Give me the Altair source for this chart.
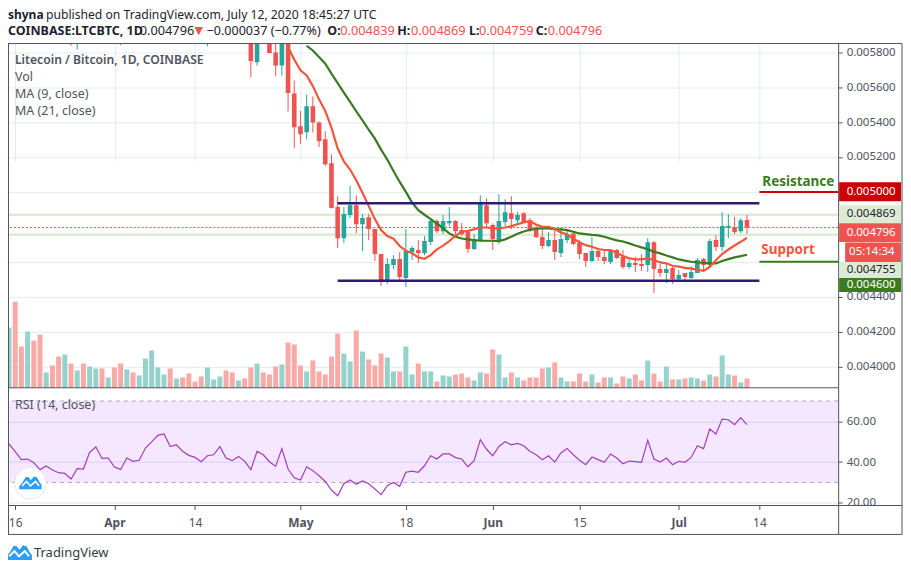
import altair as alt
import pandas as pd

# ---------- values ----------
volume = [181,259,124,169,142,160,46,67,94,100,73,52,73,64,58,58,31,61,73,55,46,37,88,112,61,40,58,28,31,43,19,34,61,25,34,52,46,22,28,61,
          73,46,40,64,70,136,130,67,49,82,49,40,94,163,103,79,172,109,85,67,103,91,49,49,124,40,73,49,49,19,37,34,40,43,31,22,46,43,115,100,
          31,46,31,22,31,31,58,61,76,31,19,19,43,19,40,16,31,31,13,34,28,40,22,82,43,19,64,25,25,28,31,28,22,40,34,97,40,37,16,28]
vol_up = [0,3,6,9,11,13,14,16,19,21,22,23,24,25,27,32,33,34,37,40,44,48,54,55,57,61,62,64,65,67,68,70,71,75,76,79,80,82,87,89,90,94,97,100,103,106,108,110,111,113,115,116,118]

rsi = [48.9,45.1,41.2,41.5,39.7,36.3,38.1,36.1,34.8,34.5,31.7,36.8,36.6,44.8,47.4,41.8,42.0,37.6,36.4,42.0,40.4,40.9,46.9,49.9,53.1,53.8,47.6,48.5,45.3,43.3,
       42.3,40.2,43.1,43.6,47.6,42.0,40.7,42.7,40.5,36.3,45.3,43.6,40.2,37.9,46.6,36.6,32.3,31.2,37.7,35.8,33.3,30.5,26.3,23.5,29.4,31.2,29.1,30.7,29.4,26.8,
       24.0,28.4,30.0,28.1,35.0,35.6,35.0,38.2,43.1,41.5,44.0,44.0,42.2,41.5,37.7,40.7,51.0,46.3,43.1,47.7,50.0,48.5,49.2,48.0,45.3,43.6,41.2,43.1,40.0,44.5,
       46.7,43.6,40.9,38.7,42.5,41.2,39.9,44.0,42.0,39.2,40.5,40.2,39.9,50.7,41.5,40.0,42.0,38.7,40.4,39.9,42.3,48.0,46.6,56.2,53.8,61.1,60.8,58.4,61.8,58.4]

# candles, as day numbers counted from 15 March, prices in millionths of BTC
candle_day = [10,11,18,32,39,40,42,43,44,45,46,47,48,49,50,51,52,53,54,55,56,57,58,59,60,61,62,63,64,65,66,67,68,69,70,71,72,73,74,75,76,77,78,79,
              80,81,82,83,84,85,86,87,88,89,90,91,92,93,94,95,96,97,98,99,100,101,102,103,104,105,106,107,108,109,110,111,112,113,114,115,116,117,118,119]
opens = [5900,5860,5900,5860,5900,5743,5900,5798,5724,5860,5564,5376,5341,5490,5398,5301,5164,4913,4735,4867,4924,4815,4855,4787,4644,4495,4581,4615,4507,4655,4667,4650,4713,4833,4775,4821,4833,4781,4770,4673,
         4718,4924,4810,4718,4827,4878,4838,4878,4838,4793,4741,4690,4724,4650,4724,4762,4707,4650,4604,4661,4627,4598,4667,4627,4570,4592,4587,4581,4712,4558,4535,4564,4501,4535,4507,4535,4615,4581,4724,4684,4794,4798,4775,4839]
highs = [5920,5900,5920,5900,5950,5900,5950,5880,5900,5900,5638,5463,5558,5547,5404,5347,5215,4975,4913,5033,4981,4873,4873,4787,4644,4621,4638,4655,4787,4690,4724,4747,4850,4844,4867,4913,4838,4821,4775,4758,
         4981,4964,4819,4987,4958,4975,4884,4884,4850,4810,4793,4770,4787,4793,4781,4770,4724,4650,4741,4673,4673,4673,4673,4667,4610,4627,4644,4735,4718,4587,4592,4570,4552,4535,4575,4621,4621,4730,4752,4884,4872,4855,4850,4869]
lows = [5838,5815,5841,5834,5657,5724,5794,5663,5667,5461,5252,5276,5301,5341,5257,5147,4905,4678,4707,4850,4764,4661,4724,4604,4461,4473,4558,4495,4455,4610,4593,4638,4695,4764,4758,4804,4752,4747,4650,4667,
        4712,4798,4667,4701,4804,4787,4819,4827,4775,4735,4673,4684,4610,4627,4707,4695,4615,4570,4598,4604,4587,4587,4615,4558,4558,4541,4547,4541,4421,4512,4478,4473,4484,4495,4501,4535,4541,4575,4661,4661,4735,4758,4764,4759]
closes = [5880,5880,5880,5880,5749,5880,5795,5724,5860,5566,5370,5330,5490,5398,5290,5158,4907,4735,4873,4924,4815,4850,4787,4644,4495,4587,4615,4513,4661,4678,4650,4718,4833,4775,4833,4833,4775,4758,4673,4728,
          4933,4821,4730,4833,4884,4844,4867,4827,4775,4741,4690,4724,4655,4730,4758,4701,4644,4604,4661,4627,4604,4661,4621,4570,4592,4581,4575,4712,4558,4535,4558,4501,4524,4512,4541,4610,4581,4718,4684,4804,4804,4770,4838,4796]

ma9_start = 45
ma9 = [5829,5758,5696,5667,5606,5530,5463,5368,5248,5175,5128,5067,4995,4920,4844,4781,4747,4732,4690,4663,4648,4625,4617,4638,4671,4692,4718,4749,4772,4777,
       4785,4796,4796,4791,4791,4796,4804,4815,4825,4833,4813,4800,4800,4787,4768,4756,4733,4711,4695,4686,4673,4667,4667,4652,4632,4619,4613,4613,4619,4610,
       4596,4591,4577,4572,4565,4560,4555,4548,4571,4609,4644,4670,4693,4714,4737]
ma21_start = 48
ma21 = [5837,5810,5772,5734,5677,5623,5568,5515,5461,5410,5356,5305,5242,5185,5120,5057,5000,4939,4895,4869,4844,4819,4791,4762,4743,4733,4728,4724,4720,4720,
        4720,4718,4728,4743,4760,4773,4783,4789,4791,4791,4787,4785,4781,4772,4762,4758,4754,4751,4743,4732,4722,4716,4705,4693,4682,4671,4657,4648,4636,4625,
        4613,4606,4600,4596,4594,4590,4590,4604,4615,4625,4632,4640]

price_ticks = [0.0058,0.0056,0.0054,0.0052,0.0050,0.0048,0.0046,0.0044,0.0042,0.0040]
rsi_ticks = [20,40,60]
time_ticks = ["2020-03-16","2020-04-01","2020-04-14","2020-05-01","2020-05-18","2020-06-01","2020-06-15","2020-07-01","2020-07-14"]
channel_prices = [0.004935,0.004491]
channel_span = ["2020-05-07","2020-07-14"]
last_high, last_close, last_low = 0.004869, 0.004796, 0.004755
resistance_level, support_level = 0.005000, 0.004600

# ---------- colours ----------
UP, DOWN = "#26a69a", "#ef5350"
VUP, VDOWN = "#93d3cb", "#f9a9a6"
GRID, FRAME, INK = "#e1ecf2", "#50535e", "#1e222d"
GREEN, ORANGE, NAVY = "#3c7a1e", "#f2573a", "#2d1a72"
FONT = "Noto Sans"

# ---------- layout: plot area is the chart pane, page x-8 / y-43 ----------
W, H = 832, 463
PANE_BOTTOM = 345
OX, OY = 8, 43

def ts(s):
    return int(pd.Timestamp(s, tz="UTC").value / 1e6)

def day(i):
    return (pd.Timestamp("2020-03-15") + pd.Timedelta(days=i)).strftime("%Y-%m-%dT00:00:00Z")

x_scale = alt.Scale(type="utc", domain=[ts("2020-03-14T20:08:00"), ts("2020-07-26T16:50:00")])
price_scale = alt.Scale(domain=[0.003878, 0.00584971], range=[PANE_BOTTOM, 0])
rsi_scale = alt.Scale(domain=[18.68, 76.5], range=[H, PANE_BOTTOM])
vol_scale = alt.Scale(domain=[0, 1035], range=[PANE_BOTTOM, 0])

time_axis = alt.Axis(values=[ts(t) for t in time_ticks], grid=True, gridColor=GRID, domain=False,
                     tickColor=FRAME, tickSize=4, labelColor=FRAME, labelFont=FONT, labelFontSize=12,
                     labelPadding=8, labelOverlap=False, labelFlush=False, title=None,
                     labelExpr="utcdate(datum.value) == 1 ? utcFormat(datum.value, '%b') : utcFormat(datum.value, '%-d')",
                     labelFontWeight={"condition": {"test": "utcdate(datum.value) == 1", "value": "bold"}, "value": "normal"})
X = alt.X("date:T", scale=x_scale, axis=time_axis, title=None)
X2 = alt.X2("date2:T")
is_up = "datum.dir == 'up'"

days = list(range(120))
vol_df = pd.DataFrame({"date": [day(i) for i in days], "vol": volume, "rsi": rsi,
                       "dir": ["up" if i in vol_up else "down" for i in days]})
candles = pd.DataFrame({"date": [day(i) for i in candle_day], "open": [v/1e6 for v in opens], "high": [v/1e6 for v in highs],
                        "low": [v/1e6 for v in lows], "close": [v/1e6 for v in closes]})
candles["dir"] = ["up" if c >= o else "down" for o, c in zip(opens, closes)]
ma9_df = pd.DataFrame({"date": [day(ma9_start + i) for i in range(len(ma9))], "p": [v/1e6 for v in ma9]})
ma21_df = pd.DataFrame({"date": [day(ma21_start + i) for i in range(len(ma21))], "p": [v/1e6 for v in ma21]})

def txt(s, x, y, size=12.5, color=INK, weight="normal", align="left", font=FONT):
    return alt.Chart().mark_text(text=s, align=align, baseline="middle", fontSize=size, color=color,
                                 fontWeight=weight, font=font).encode(x=alt.value(x - OX), y=alt.value(y - OY))

def seg(x1, x2, y):
    return alt.Chart().mark_rule(color=FRAME, strokeWidth=1).encode(
        x=alt.value(x1 - OX), x2=alt.value(x2 - OX), y=alt.value(y - OY))

def vseg(x, y1, y2):
    return alt.Chart().mark_rule(color=FRAME, strokeWidth=1).encode(
        x=alt.value(x - OX), y=alt.value(y1 - OY), y2=alt.value(y2 - OY))

def tag(s, x1, x2, y1, y2, bg, fg, tx=848.5):
    box = alt.Chart().mark_rect(color=bg).encode(x=alt.value(x1 - OX), x2=alt.value(x2 - OX),
                                                 y=alt.value(y1 - OY), y2=alt.value(y2 - OY))
    return [box, txt(s, tx, (y1 + y2) / 2, size=11.5, color=fg)]

# the labels of 0.004800 and 0.004600 sit under the value tags, as in the reference
price_axis = alt.Axis(values=price_ticks, format=".6f", orient="right", grid=True, gridColor=GRID, domain=False,
                      tickColor=FRAME, tickSize=4, labelColor=FRAME, labelFont=FONT, labelFontSize=11.5,
                      labelPadding=4, labelOverlap=False, labelFlush=False, title=None,
                      labelExpr="(abs(datum.value - 0.0048) < 1e-7 || abs(datum.value - 0.0046) < 1e-7) ? '' : datum.label")
rsi_axis = alt.Axis(values=rsi_ticks, format=".2f", orient="right", grid=True, gridColor="#e0e3f0", domain=False,
                    tickColor=FRAME, tickSize=4, labelColor=FRAME, labelFont=FONT, labelFontSize=11.5,
                    labelPadding=4, labelOverlap=False, labelFlush=False, title=None)

# RSI pane
rsi_zone = alt.Chart(pd.DataFrame({"a": [70], "b": [30]})).mark_rect(color="#9915ff", opacity=0.1).encode(
    x=alt.value(0), x2=alt.value(W),
    y=alt.Y("a:Q", scale=rsi_scale, axis=rsi_axis, title=None), y2="b:Q")
rsi_bounds = alt.Chart(pd.DataFrame({"v": [70, 30]})).mark_rule(color="#b3aab8", strokeDash=[4, 4], strokeWidth=1).encode(
    y=alt.Y("v:Q", scale=rsi_scale, axis=None))
rsi_line = alt.Chart(vol_df).mark_line(color="#a33dbd", strokeWidth=1.2).encode(
    x=X, y=alt.Y("rsi:Q", scale=rsi_scale, axis=None))

# volume
vol_bars = alt.Chart(vol_df).transform_calculate(zero="0").mark_rule(strokeWidth=5).encode(
    x=X, y=alt.Y("vol:Q", scale=vol_scale, axis=None), y2="zero:Q",
    color=alt.condition(is_up, alt.value(VUP), alt.value(VDOWN)))

# last-value lines and grid of the price scale
levels = alt.Chart(pd.DataFrame({"v": [last_high, last_low]})).mark_rule(color="#dcebd4", strokeWidth=2.5).encode(
    y=alt.Y("v:Q", scale=price_scale, axis=price_axis, title=None))
close_line = alt.Chart(pd.DataFrame({"v": [last_close]})).mark_rule(color=DOWN, strokeWidth=1, strokeDash=[2, 2]).encode(
    y=alt.Y("v:Q", scale=price_scale, axis=None))

# candles
PY = lambda f: alt.Y(f, scale=price_scale, axis=None, title=None)
cbase = alt.Chart(candles)
color = alt.condition(is_up, alt.value(UP), alt.value(DOWN))
wicks = cbase.mark_rule(strokeWidth=1, clip=True).encode(x=X, y=PY("high:Q"), y2="low:Q", color=color)
bodies = cbase.mark_rule(strokeWidth=4.6, clip=True).encode(x=X, y=PY("open:Q"), y2="close:Q", color=color)

# moving averages
ma21_line = alt.Chart(ma21_df).mark_line(color=GREEN, strokeWidth=2.2, clip=True).encode(x=X, y=PY("p:Q"))
ma9_line = alt.Chart(ma9_df).mark_line(color=ORANGE, strokeWidth=2.2, clip=True).encode(x=X, y=PY("p:Q"))

# drawn lines
channel = alt.Chart(pd.DataFrame({"date": [channel_span[0] + "T00:00:00Z"] * 2, "date2": [channel_span[1] + "T00:00:00Z"] * 2,
                                  "v": channel_prices})).mark_rule(color=NAVY, strokeWidth=2.5).encode(x=X, x2=X2, y=PY("v:Q"))
resist = alt.Chart(pd.DataFrame({"date": ["2020-07-14T00:00:00Z"], "date2": ["2020-07-26T16:50:00Z"], "v": [resistance_level]})).mark_rule(
    color="#cc0000", strokeWidth=2).encode(x=X, x2=X2, y=PY("v:Q"))
support = alt.Chart(pd.DataFrame({"date": ["2020-07-14T00:00:00Z"], "date2": ["2020-07-26T16:50:00Z"], "v": [support_level]})).mark_rule(
    color=GREEN, strokeWidth=2).encode(x=X, x2=X2, y=PY("v:Q"))

# logo shapes
CLOUD = "M-1,0.6 L-1,0.3 L-0.72,0 L-0.42,-0.5 L-0.2,-0.5 L0.05,-0.2 L0.3,-0.55 L0.6,-0.45 L0.8,-0.05 L1,0.2 L1,0.6 Z"
ZIG = "M-0.75,0.3 L-0.35,-0.1 L0,0.3 L0.45,-0.1 L0.78,0.3"
def logo(x, y, size, stroke):
    a = alt.Chart().mark_point(shape=CLOUD, filled=True, color="#2e9ef4", opacity=1, size=size).encode(
        x=alt.value(x - OX), y=alt.value(y - OY))
    b = alt.Chart().mark_point(shape=ZIG, filled=False, color="white", opacity=1, size=size, strokeWidth=stroke).encode(
        x=alt.value(x - OX), y=alt.value(y - OY))
    return [a, b]
badge = alt.Chart().mark_point(shape="circle", filled=True, color="white", stroke="#e3e6ea", strokeWidth=1, opacity=1, size=1000).encode(
    x=alt.value(30.5 - OX), y=alt.value(483.5 - OY))

layers = [rsi_zone, rsi_bounds, rsi_line, vol_bars, levels, close_line, wicks, bodies, ma21_line, ma9_line, channel, resist, support]

# frame
layers += [seg(OX, 904, 43), seg(OX, 904, 535), seg(OX, 904, 506), seg(OX, 840, 388),
           vseg(OX + 0.5, 43, 535), vseg(840.5, 43, 535), vseg(904, 43, 535)]

# value tags on the price scale
layers += tag("0.005000", 841, 903, 182, 201, "#cc0000", "white")
layers += tag("0.004869", 841, 903, 205, 223, "#dcebd4", INK)
layers += tag("0.004796", 841, 903, 223, 242, DOWN, "white")
layers += tag("05:14:34", 847, 903, 242.5, 262, DOWN, "white", tx=851)
layers += tag("0.004755", 841, 903, 262, 278, "#dcebd4", INK)
layers += tag("0.004600", 841, 903, 278, 292, GREEN, "white")

# annotations
layers += [txt("Resistance", 764, 182, size=13.5, color=GREEN, weight="bold"),
           txt("Support", 763, 250, size=13.5, color=ORANGE, weight="bold")]

# pane legends
layers += [txt("Litecoin / Bitcoin, 1D, COINBASE", 15, 60, size=12.2, color=FRAME, weight=600),
           txt("Vol", 15, 77, color=FRAME), txt("MA (9, close)", 15, 94, color=FRAME),
           txt("MA (21, close)", 15, 111, color=FRAME), txt("RSI (14, close)", 15, 405, color=FRAME)]

# header
layers += [txt("shyna", 8, 14, size=12, weight="bold"),
           txt("published on TradingView.com, July 12, 2020 18:45:27 UTC", 46, 14, size=12.2),
           txt("COINBASE:LTCBTC, 1D", 8, 30, size=12.5, weight="bold"),
           txt("0.004796", 140, 30, size=12.8),
           txt("▼", 195, 30, size=11, color=DOWN, font="DejaVu Sans"),
           txt("−0.000037 (−0.77%)", 207, 30, size=12.6)]
for head, hx, val, vx in [("O:", 328, "0.004839", 341), ("H:", 398, "0.004869", 412),
                          ("L:", 470, "0.004759", 480), ("C:", 537, "0.004796", 549)]:
    layers += [txt(head, hx, 30, size=12.5, weight="bold"), txt(val, vx, 30, size=12.8, color=DOWN)]

# watermark and footer
layers += [badge] + logo(30.5, 483, 500, 1.5)
layers += logo(19, 553, 676, 2) + [txt("TradingView", 34, 553.5, size=13, color="#333a45")]

chart = alt.layer(*layers).resolve_scale(y="independent").properties(
    width=W, height=H,
    padding={"left": 0, "top": 35, "right": 65, "bottom": 54},
    autosize=alt.AutoSizeParams(type="none"),
    background="white",
).configure_view(stroke=None)

chart.save("out.html", embed_options={"renderer": "svg", "actions": False})
